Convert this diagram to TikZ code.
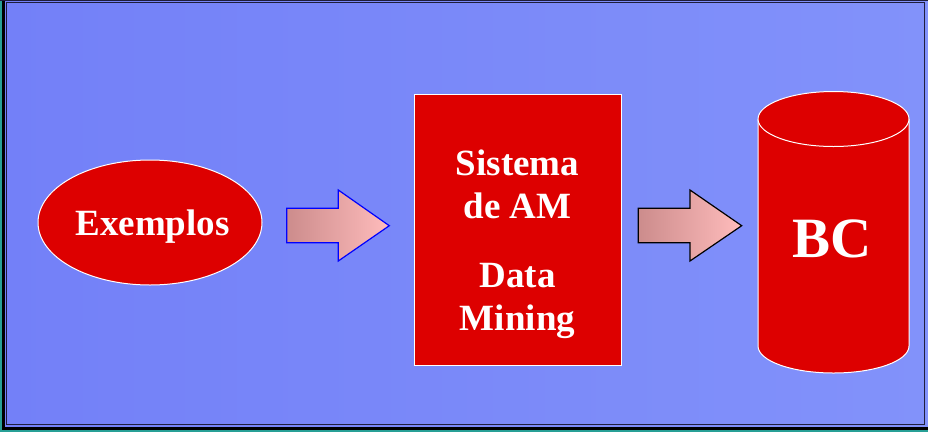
\documentclass[tikz,border=0pt]{standalone}
\usepackage{fontspec}
\setmainfont{Liberation Serif}
\usetikzlibrary{shapes.geometric}
\definecolor{bgleft}{RGB}{115,128,248}
\definecolor{bgright}{RGB}{130,146,250}
\definecolor{framedark}{RGB}{30,30,60}
\definecolor{edgeteal}{RGB}{40,160,150}
\definecolor{boxred}{RGB}{221,0,0}
\definecolor{arrowleft}{RGB}{204,140,140}
\definecolor{arrowright}{RGB}{255,188,188}
\tikzset{
  redshape/.style={fill=boxred, draw=white, line width=1pt},
  whitetext/.style={text=white, font=\bfseries\fontsize{37}{43}\selectfont, anchor=base, inner sep=0pt},
  blockarrow/.style={left color=arrowleft, right color=arrowright, line width=1.2pt, line join=miter},
}
\begin{document}
\begin{tikzpicture}[x=1pt,y=-1pt]
\useasboundingbox (0,0) rectangle (928,432);
% background and frame
\fill[edgeteal] (0,0) rectangle (928,432);
\fill[black] (2,-1) rectangle (929,430);
\shade[left color=bgleft, right color=bgright] (5,1) rectangle (929,426);
\draw[framedark, line width=1pt] (6.5,2.5) rectangle (924.5,424.5);
\draw[framedark, line width=1pt] (0,0.5) -- (928,0.5);

% Exemplos ellipse
\node[redshape, ellipse, minimum width=224pt, minimum height=125pt, inner sep=0pt] (ex) at (150,222.5) {};
\node[whitetext] (extext) at (152.5,235) {Exemplos};

% System box
\node[redshape, rectangle, minimum width=207pt, minimum height=271pt, inner sep=0pt] (box) at (517.5,229.5) {};
\node[whitetext] (t1) at (517.5,175) {Sistema};
\node[whitetext] (t2) at (517.5,218) {de AM};
\node[whitetext] (t3) at (517.5,287) {Data};
\node[whitetext] (t4) at (517.5,330) {Mining};

% Cylinder BC
\coordinate (cyl) at (833.5,119);
\fill[boxred] (758,119) -- (758,346) arc[start angle=180, end angle=360, x radius=75.5pt, y radius=27pt] -- (909,119) -- cycle;
\draw[white, line width=1pt] (758,119) -- (758,346) arc[start angle=180, end angle=360, x radius=75.5pt, y radius=27pt] -- (909,119);
\draw[redshape] (cyl) ellipse[x radius=75.5pt, y radius=27.5pt];
\node[text=white, font=\bfseries\fontsize{57}{60}\selectfont, anchor=base, inner sep=0pt] (bc) at (832,257) {BC};

% Block arrows
\draw[blockarrow, draw={rgb,255:red,0;green,0;blue,255}]
  (286.7,208.3) -- (338.3,208.3) -- (338.3,190) -- (389.3,225.7) -- (338.3,261) -- (338.3,242.7) -- (286.7,242.7) -- cycle;
\draw[blockarrow, draw=black]
  (638.3,208.3) -- (690,208.3) -- (690,190) -- (741.7,225.7) -- (690,261) -- (690,242.7) -- (638.3,242.7) -- cycle;
\end{tikzpicture}
\end{document}
